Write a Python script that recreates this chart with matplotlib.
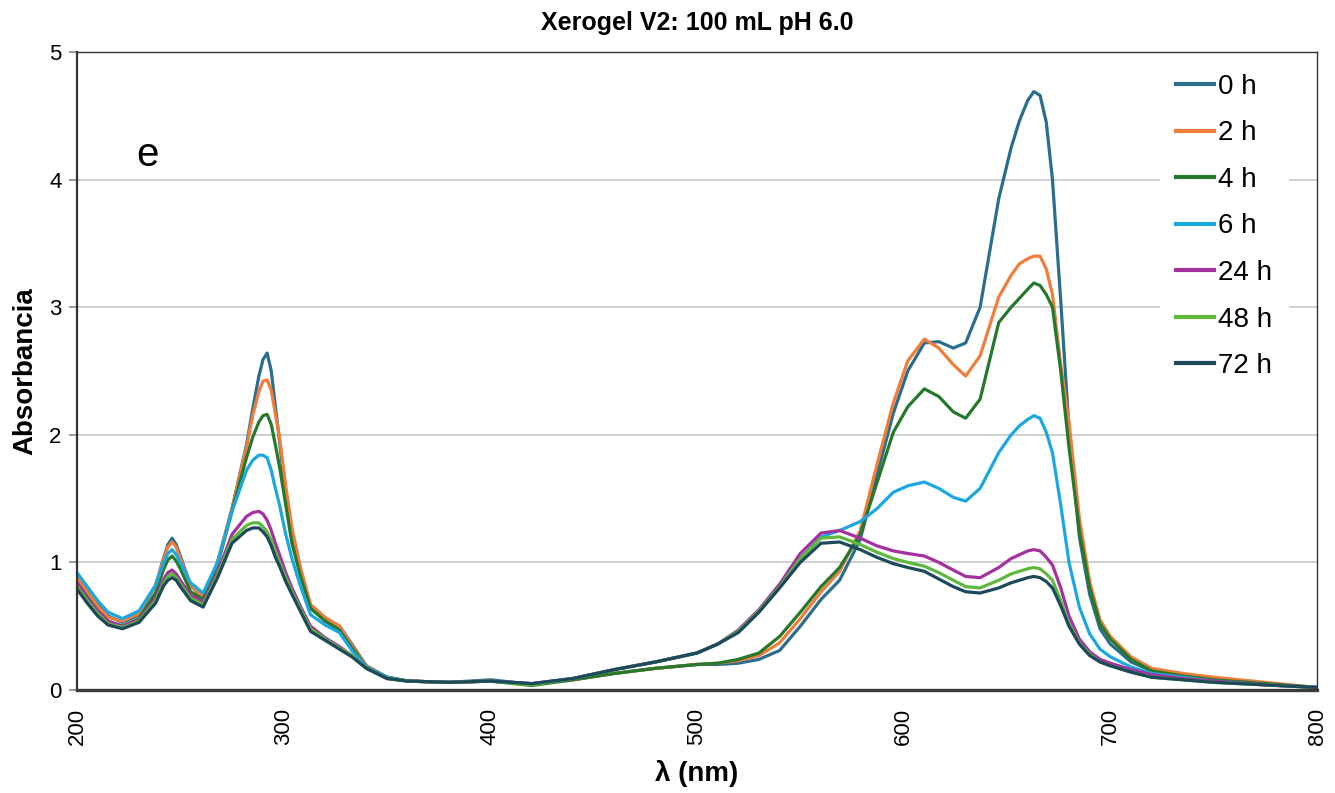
import matplotlib
matplotlib.use('Agg')
import matplotlib.pyplot as plt

plt.rcParams['font.family'] = ['Liberation Sans', 'DejaVu Sans']

# wavelength grid (nm)
wl = [200, 205, 210, 215, 222, 230, 238, 242, 244, 246, 248, 250, 255, 261,
      268, 275, 282, 285, 288, 290, 292, 294, 296, 298, 301, 304, 308, 313, 320, 327, 333, 340, 350,
      360, 380, 400, 420, 440, 460, 480, 500, 510, 520, 530, 540, 550, 560,
      569, 579, 587, 595, 602, 610, 617, 624, 630, 637, 646, 652, 656, 660, 663, 666, 669, 672, 676, 680,
      685, 690, 695, 700, 710, 720, 735, 750, 775, 800]

# absorbance readings per time
a_0h = [0.89, 0.78, 0.67, 0.58, 0.53, 0.59, 0.82, 1.04, 1.14, 1.19, 1.14, 1.05, 0.82, 0.72,
        1.00, 1.42, 1.92, 2.20, 2.46, 2.59, 2.64, 2.50, 2.22, 1.95, 1.52, 1.18, 0.92, 0.66, 0.56, 0.50, 0.36, 0.19, 0.10,
        0.07, 0.06, 0.08, 0.045, 0.08, 0.13, 0.17, 0.20, 0.20, 0.21, 0.24, 0.31, 0.50, 0.71,
        0.86, 1.18, 1.68, 2.17, 2.50, 2.72, 2.73, 2.68, 2.72, 3.00, 3.85, 4.25, 4.46, 4.62, 4.69, 4.66, 4.45, 4.00, 3.05, 2.05,
        1.20, 0.75, 0.48, 0.36, 0.22, 0.15, 0.11, 0.08, 0.05, 0.02]
a_2h = [0.88, 0.77, 0.66, 0.57, 0.54, 0.60, 0.82, 1.03, 1.12, 1.16, 1.12, 1.03, 0.82, 0.73,
        1.00, 1.42, 1.90, 2.15, 2.34, 2.42, 2.43, 2.35, 2.16, 1.98, 1.60, 1.27, 0.97, 0.67, 0.57, 0.50, 0.35, 0.19, 0.10,
        0.07, 0.06, 0.07, 0.045, 0.08, 0.13, 0.17, 0.20, 0.21, 0.23, 0.27, 0.37, 0.56, 0.77,
        0.93, 1.25, 1.76, 2.25, 2.58, 2.75, 2.68, 2.55, 2.46, 2.62, 3.08, 3.25, 3.34, 3.38, 3.40, 3.40, 3.30, 3.10, 2.55, 2.10,
        1.35, 0.85, 0.55, 0.42, 0.26, 0.17, 0.13, 0.10, 0.06, 0.02]
a_4h = [0.84, 0.73, 0.62, 0.54, 0.50, 0.56, 0.76, 0.95, 1.02, 1.05, 1.01, 0.95, 0.77, 0.71,
        0.98, 1.40, 1.82, 1.98, 2.10, 2.15, 2.16, 2.08, 1.92, 1.75, 1.45, 1.15, 0.90, 0.64, 0.54, 0.47, 0.33, 0.18, 0.10,
        0.07, 0.06, 0.07, 0.035, 0.08, 0.13, 0.17, 0.20, 0.21, 0.24, 0.29, 0.42, 0.61, 0.81,
        0.96, 1.22, 1.62, 2.02, 2.22, 2.36, 2.30, 2.18, 2.13, 2.28, 2.88, 3.00, 3.07, 3.14, 3.19, 3.17, 3.10, 3.00, 2.50, 1.90,
        1.25, 0.80, 0.52, 0.40, 0.24, 0.15, 0.11, 0.08, 0.05, 0.02]
a_6h = [0.92, 0.81, 0.70, 0.61, 0.56, 0.62, 0.82, 1.00, 1.07, 1.10, 1.06, 1.00, 0.84, 0.76,
        1.00, 1.40, 1.72, 1.80, 1.84, 1.84, 1.82, 1.72, 1.58, 1.45, 1.22, 1.03, 0.82, 0.59, 0.51, 0.45, 0.31, 0.18, 0.10,
        0.07, 0.06, 0.07, 0.05, 0.09, 0.16, 0.22, 0.29, 0.36, 0.46, 0.62, 0.81, 1.03, 1.20,
        1.25, 1.32, 1.42, 1.55, 1.60, 1.63, 1.58, 1.51, 1.48, 1.58, 1.86, 2.00, 2.07, 2.12, 2.15, 2.13, 2.02, 1.86, 1.45, 1.00,
        0.65, 0.44, 0.32, 0.26, 0.18, 0.13, 0.10, 0.07, 0.04, 0.02]
a_24h = [0.84, 0.72, 0.62, 0.54, 0.50, 0.55, 0.72, 0.87, 0.92, 0.94, 0.91, 0.86, 0.74, 0.69,
         0.92, 1.22, 1.36, 1.39, 1.40, 1.38, 1.33, 1.25, 1.15, 1.06, 0.92, 0.80, 0.66, 0.50, 0.41, 0.34, 0.27, 0.17, 0.09,
         0.07, 0.06, 0.07, 0.05, 0.09, 0.16, 0.22, 0.29, 0.36, 0.47, 0.63, 0.83, 1.07, 1.23,
         1.25, 1.19, 1.13, 1.09, 1.07, 1.05, 1.00, 0.94, 0.89, 0.88, 0.96, 1.03, 1.06, 1.09, 1.10, 1.09, 1.04, 0.98, 0.80, 0.58,
         0.40, 0.30, 0.24, 0.21, 0.16, 0.12, 0.09, 0.07, 0.04, 0.02]
a_48h = [0.81, 0.70, 0.60, 0.52, 0.49, 0.54, 0.70, 0.84, 0.89, 0.91, 0.88, 0.83, 0.72, 0.67,
         0.90, 1.18, 1.29, 1.31, 1.31, 1.28, 1.24, 1.17, 1.08, 1.00, 0.88, 0.77, 0.64, 0.48, 0.40, 0.33, 0.27, 0.17, 0.09,
         0.07, 0.06, 0.07, 0.04, 0.09, 0.16, 0.22, 0.29, 0.36, 0.46, 0.62, 0.81, 1.03, 1.19,
         1.20, 1.14, 1.08, 1.03, 1.00, 0.97, 0.92, 0.86, 0.81, 0.80, 0.86, 0.91, 0.93, 0.95, 0.96, 0.95, 0.91, 0.86, 0.70, 0.52,
         0.37, 0.28, 0.22, 0.19, 0.14, 0.10, 0.08, 0.06, 0.04, 0.02]
a_72h = [0.79, 0.68, 0.58, 0.51, 0.48, 0.53, 0.68, 0.82, 0.86, 0.88, 0.86, 0.81, 0.70, 0.65,
         0.88, 1.15, 1.25, 1.27, 1.27, 1.24, 1.20, 1.13, 1.04, 0.97, 0.85, 0.75, 0.62, 0.46, 0.39, 0.32, 0.26, 0.17, 0.09,
         0.07, 0.06, 0.07, 0.05, 0.09, 0.16, 0.22, 0.29, 0.36, 0.45, 0.61, 0.80, 1.00, 1.15,
         1.16, 1.10, 1.04, 0.99, 0.96, 0.93, 0.87, 0.81, 0.77, 0.76, 0.80, 0.84, 0.86, 0.88, 0.89, 0.88, 0.85, 0.80, 0.66, 0.50,
         0.36, 0.27, 0.22, 0.19, 0.14, 0.10, 0.08, 0.06, 0.04, 0.02]

labels = ['0 h', '2 h', '4 h', '6 h', '24 h', '48 h', '72 h']
series = [a_0h, a_2h, a_4h, a_6h, a_24h, a_48h, a_72h]
colors = ['#2a6d8f', '#f07d3a', '#26792c', '#1ca7e0', '#a5319f', '#5db83c', '#1d4a5a']

fig = plt.figure(figsize=(13.35, 7.93), dpi=100)
ax = fig.add_axes([77/1335, 103/793, 1240/1335, 638/793])

for y, c, lab in zip(series, colors, labels):
    ax.plot(wl, y, color=c, lw=2.3, label=lab, solid_joinstyle='round')

ax.set_xlim(200, 800)
ax.set_ylim(0, 5)
ax.set_xticks(range(200, 801, 100))
ax.set_yticks(range(0, 6))
ax.tick_params(axis='x', length=0, labelsize=16, rotation=90, pad=13)
ax.tick_params(axis='y', length=6, width=1.2, color='#888888', labelsize=16, pad=5)
ax.yaxis.grid(True, color='#cccccc', lw=1.3)
ax.set_axisbelow(True)

for s in ['top', 'right']:
    ax.spines[s].set_linewidth(1.0)
    ax.spines[s].set_color('#333333')
ax.spines['left'].set_linewidth(1.6)
ax.spines['left'].set_color('#333333')
ax.spines['bottom'].set_linewidth(2.4)
ax.spines['bottom'].set_color('#3a3a3a')

ax.set_xlabel('λ (nm)', fontsize=20, fontweight='bold', labelpad=11)
ax.set_ylabel('Absorbancia', fontsize=20, fontweight='bold', labelpad=8)
ax.set_title('Xerogel V2: 100 mL pH 6.0', fontsize=18, fontweight='bold', pad=16)

ax.text(0.057, 0.838, 'e', transform=ax.transAxes, fontsize=29, ha='center', va='center')

leg = ax.legend(loc='upper left', bbox_to_anchor=(0.873, 0.992), fontsize=20,
                frameon=True, facecolor='white', edgecolor='none', framealpha=1,
                handlelength=1.37, handletextpad=0.15, labelspacing=0.74,
                borderaxespad=0, borderpad=0.6, fancybox=False)
for h in leg.get_lines():
    h.set_linewidth(3)

fig.savefig('out.png', dpi=100)
